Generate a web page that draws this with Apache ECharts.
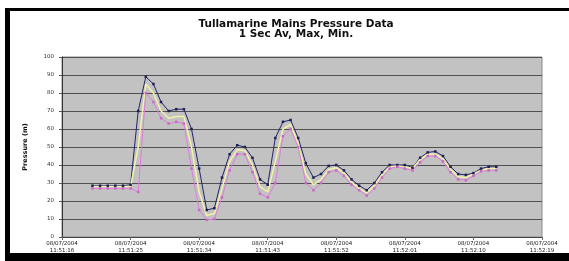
<!DOCTYPE html>
<html>
<head>
<meta charset="utf-8">
<script src="https://cdn.jsdelivr.net/npm/echarts@6/dist/echarts.min.js"></script>
<style>
  body { margin: 0; background: #fff; }
  #wrap { position: relative; width: 569px; height: 261px; overflow: hidden; }
  .bar { position: absolute; background: #000; }
  #chart { position: absolute; left: 0; top: 0; width: 569px; height: 261px; }
</style>
</head>
<body>
<div id="wrap">
  <div class="bar" style="left:5px;top:8px;width:564px;height:3px"></div>
  <div class="bar" style="left:5px;top:8px;width:5px;height:253px"></div>
  <div class="bar" style="left:5px;top:253px;width:564px;height:8px"></div>
  <div id="chart"></div>
</div>
<script>
// x labels every 9 seconds
const tickLabels = [
  '08/07/2004\n11:51:16', '08/07/2004\n11:51:25', '08/07/2004\n11:51:34', '08/07/2004\n11:51:43',
  '08/07/2004\n11:51:52', '08/07/2004\n11:52:01', '08/07/2004\n11:52:10', '08/07/2004\n11:52:19'
]
const startIndex = 4
const maxValues = [28.5, 28.5, 28.5, 28.5, 28.5, 29, 70, 89, 85, 75, 70, 71, 71, 60, 38, 15, 16, 33, 46, 51,
  50, 44, 32, 29, 55, 64, 65, 55, 41, 33, 35, 39.5, 40, 37, 32, 28.5, 26, 30, 36, 40,
  40, 40, 38.5, 44, 47, 47.5, 45, 39, 35, 34.5, 35.5, 38, 39, 39]
const avgValues = [28, 28, 28, 28, 28, 28, 50, 85, 80, 70, 66, 67, 67, 50, 25, 12, 13, 27, 42, 48.5,
  48, 40, 28, 25, 42, 60, 62.5, 52, 35, 29, 32, 37.5, 38.5, 35.5, 30.5, 27, 24.5, 28.5, 34.5, 39,
  39.5, 39, 38, 43, 46, 46, 43.5, 37.5, 33.5, 33, 35, 37, 38, 38]
const minValues = [27, 27, 27, 27, 27, 27, 25, 80, 75, 66, 63, 64, 63, 38, 15, 9.5, 10, 22, 37, 46,
  46, 36, 24, 22, 30, 56, 60, 50, 30, 26, 30, 36, 37, 34, 29, 26, 23, 27, 33, 38,
  39, 38, 37, 41.5, 45, 45, 42, 36, 32, 31.5, 34, 36.5, 37, 37]

function toPairs (arr) {
  return arr.map((v, i) => [startIndex + i, v])
}

const chart = echarts.init(document.getElementById('chart'))
const option = {
  backgroundColor: 'transparent',
  animation: false,
  title: {
    text: 'Tullamarine Mains Pressure Data\n1 Sec Av, Max, Min.',
    left: 291,
    textAlign: 'center',
    top: 14,
    textStyle: {
      fontFamily: 'DejaVu Sans',
      fontSize: 10.5,
      fontWeight: 'bold',
      lineHeight: 10.5,
      color: '#111'
    }
  },
  grid: {
    left: 62,
    top: 57,
    width: 480,
    height: 180,
    show: true,
    backgroundColor: '#c2c2c2',
    borderColor: '#8a8a8a',
    borderWidth: 1
  },
  xAxis: {
    type: 'value',
    min: 0,
    max: 63,
    interval: 9,
    axisLine: { lineStyle: { color: '#444' } },
    axisTick: { show: true, length: 3, lineStyle: { color: '#666' } },
    splitLine: { show: false },
    axisLabel: {
      fontFamily: 'DejaVu Sans',
      fontSize: 5.5,
      lineHeight: 7,
      margin: 3,
      color: '#222',
      formatter: v => tickLabels[Math.round(v / 9)]
    }
  },
  yAxis: {
    type: 'value',
    min: 0,
    max: 100,
    interval: 10,
    name: 'Pressure (m)',
    nameLocation: 'middle',
    nameGap: 33,
    nameTextStyle: { fontFamily: 'DejaVu Sans', fontSize: 6.5, fontWeight: 'bold', color: '#111' },
    axisLine: { show: true, lineStyle: { color: '#333' } },
    axisTick: { show: true, length: 3, lineStyle: { color: '#555' } },
    splitLine: { lineStyle: { color: '#505050', width: 1 } },
    axisLabel: { fontFamily: 'DejaVu Sans', fontSize: 5.5, margin: 8, color: '#333' }
  },
  series: [
    {
      name: 'Max',
      type: 'line',
      data: toPairs(maxValues),
      symbol: 'rect',
      symbolSize: 2.5,
      lineStyle: { color: '#23236a', width: 1 },
      itemStyle: { color: '#202050' }
    },
    {
      name: 'Av',
      type: 'line',
      data: toPairs(avgValues),
      symbol: 'none',
      lineStyle: { color: '#f2f2a8', width: 1.5 }
    },
    {
      name: 'Min',
      type: 'line',
      data: toPairs(minValues),
      symbol: 'rect',
      symbolSize: 2.5,
      lineStyle: { color: '#e07ae0', width: 1 },
      itemStyle: { color: '#c868c8' }
    }
  ]
}
chart.setOption(option)
</script>
</body>
</html>
